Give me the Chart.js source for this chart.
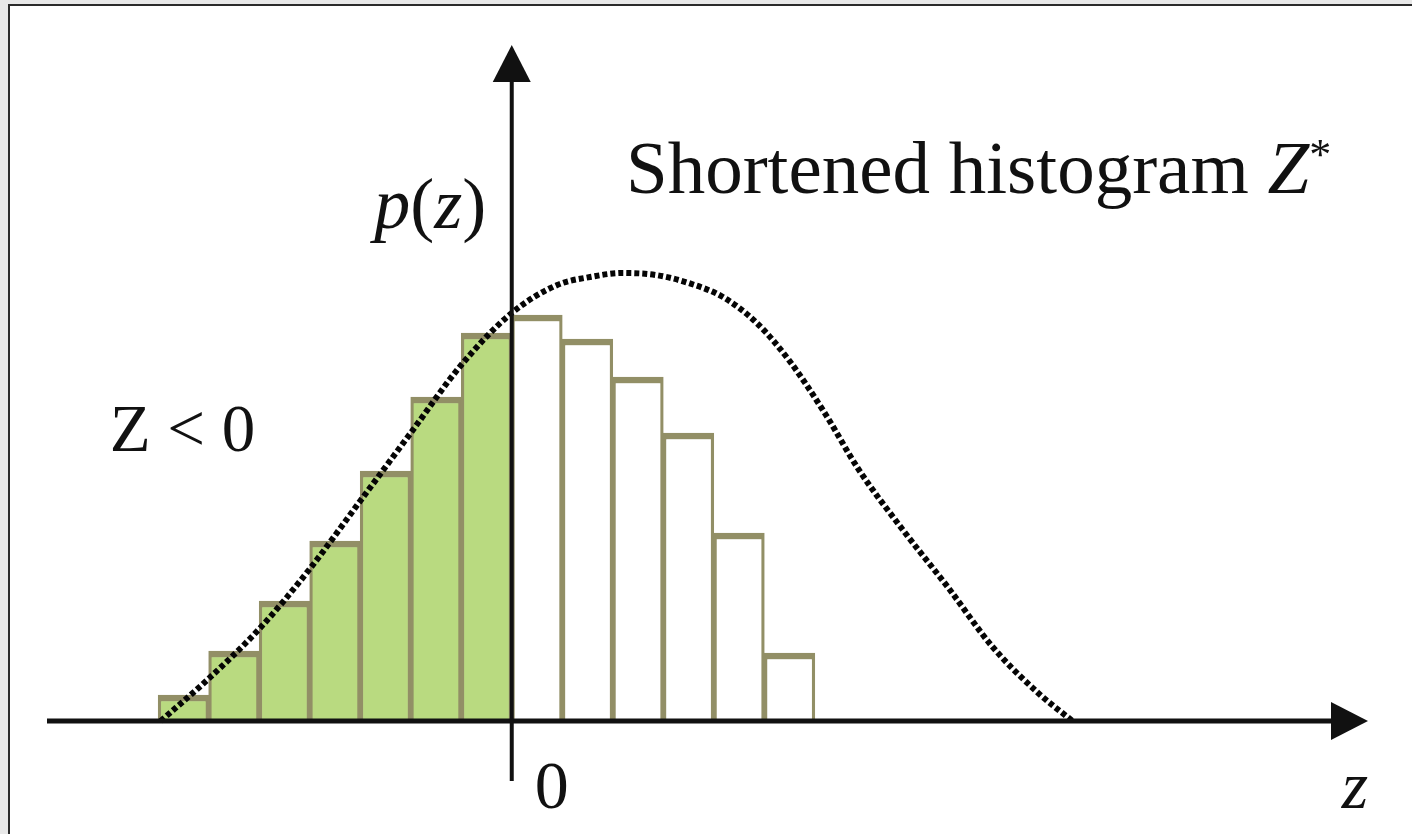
<!DOCTYPE html>
<html>
<head>
<meta charset="utf-8">
<title>Shortened histogram</title>
<script src="https://cdn.jsdelivr.net/npm/chart.js@4.4.1/dist/chart.umd.min.js"></script>
<style>
  html, body { margin: 0; padding: 0; background: #e8e8e8; }
  canvas { display: block; }
</style>
</head>
<body>
<canvas id="histChart" width="1412" height="834"></canvas>
<script>
// --- Histogram bins (unit width), split at z = 0 ---
const negCenters = [-6.5, -5.5, -4.5, -3.5, -2.5, -1.5, -0.5];
const negHeights = [0.065, 0.175, 0.30, 0.45, 0.625, 0.81, 0.97];
const posCenters = [0.5, 1.5, 2.5, 3.5, 4.5, 5.5];
const posHeights = [1.015, 0.955, 0.86, 0.72, 0.47, 0.17];

// --- Dotted density curve p(z) ---
const curveZ = [-6.95, -6.05, -5.0, -4.0, -3.0, -2.0, -1.0, 0, 0.9, 1.55, 2.2, 2.85, 3.5, 4.18, 4.85, 5.5, 6.22, 6.85, 7.74, 8.63, 9.52, 10.42, 11.1];
const curveP = [0, 0.10, 0.23, 0.38, 0.55, 0.72, 0.89, 1.02, 1.09, 1.11, 1.12, 1.115, 1.095, 1.06, 0.995, 0.90, 0.765, 0.632, 0.478, 0.335, 0.185, 0.07, 0];

// --- Axis ranges ---
const Z_MIN = -9.2, Z_MAX = 16.95;
const P_MIN = -0.15, P_MAX = 1.69;

const GREEN = '#b9da80';
const OLIVE = '#928f66';
const INK = '#111111';
const SERIF = '"Liberation Serif", "Times New Roman", serif';

const BIN_BORDER = { top: 6.5, bottom: 0, left: 3.25, right: 3.25 };

function toPoints(xs, ys) {
    return xs.map((x, i) => ({ x: x, y: ys[i] }));
}

// grey page with the white panel and its frame
const framePlugin = {
    id: 'frame',
    beforeDraw(chart) {
        const ctx = chart.ctx;
        const w = chart.width, h = chart.height;
        ctx.save();
        ctx.fillStyle = '#e8e8e8';
        ctx.fillRect(0, 0, w, h);
        ctx.fillStyle = '#ffffff';
        ctx.fillRect(9, 4, w - 9, h - 4);
        ctx.strokeStyle = '#2b2b2b';
        ctx.lineWidth = 2;
        ctx.beginPath();
        ctx.moveTo(9, h);
        ctx.lineTo(9, 5);
        ctx.lineTo(w, 5);
        ctx.stroke();
        ctx.restore();
    }
};

// z and p(z) axes with arrowheads, crossing at the origin
const axesPlugin = {
    id: 'arrowAxes',
    afterDatasetsDraw(chart) {
        const ctx = chart.ctx;
        const area = chart.chartArea;
        const x0 = chart.scales.x.getPixelForValue(0);
        const y0 = chart.scales.y.getPixelForValue(0);
        const len = 37, half = 19;
        ctx.save();
        ctx.strokeStyle = INK;
        ctx.fillStyle = INK;

        ctx.lineWidth = 5;
        ctx.beginPath();
        ctx.moveTo(area.left, y0);
        ctx.lineTo(area.right - len + 2, y0);
        ctx.stroke();

        ctx.lineWidth = 4;
        ctx.beginPath();
        ctx.moveTo(x0, area.bottom);
        ctx.lineTo(x0, area.top + len - 2);
        ctx.stroke();

        ctx.beginPath();
        ctx.moveTo(area.right, y0);
        ctx.lineTo(area.right - len, y0 - half);
        ctx.lineTo(area.right - len, y0 + half);
        ctx.closePath();
        ctx.fill();

        ctx.beginPath();
        ctx.moveTo(x0, area.top);
        ctx.lineTo(x0 - half, area.top + len);
        ctx.lineTo(x0 + half, area.top + len);
        ctx.closePath();
        ctx.fill();
        ctx.restore();
    }
};

// draws a run of [text, font, dy] pieces left to right
function drawRun(ctx, x, y, pieces) {
    pieces.forEach(([text, font, dy]) => {
        ctx.font = font;
        ctx.fillText(text, x, y + (dy || 0));
        x += ctx.measureText(text).width;
    });
}

const labelsPlugin = {
    id: 'labels',
    afterDraw(chart) {
        const ctx = chart.ctx;
        const xs = chart.scales.x, ys = chart.scales.y;
        ctx.save();
        ctx.fillStyle = INK;
        ctx.textBaseline = 'alphabetic';
        ctx.textAlign = 'left';

        drawRun(ctx, xs.getPixelForValue(2.26), ys.getPixelForValue(1.32), [
            ['Shortened histogram ', '75px ' + SERIF],
            ['Z', 'italic 75px ' + SERIF],
            ['*', '44px ' + SERIF, -24]
        ]);

        drawRun(ctx, xs.getPixelForValue(-2.72), ys.getPixelForValue(1.2325), [
            ['p', 'italic 72px ' + SERIF],
            ['(', '72px ' + SERIF],
            ['z', 'italic 72px ' + SERIF],
            [')', '72px ' + SERIF]
        ]);

        drawRun(ctx, xs.getPixelForValue(-7.96), ys.getPixelForValue(0.675), [
            ['Z < 0', '67px ' + SERIF]
        ]);

        drawRun(ctx, xs.getPixelForValue(0.455), ys.getPixelForValue(-0.2175), [
            ['0', '68px ' + SERIF]
        ]);

        drawRun(ctx, xs.getPixelForValue(16.43), ys.getPixelForValue(-0.2175), [
            ['z', 'italic 68px ' + SERIF]
        ]);
        ctx.restore();
    }
};

const chart = new Chart(document.getElementById('histChart').getContext('2d'), {
    type: 'bar',
    data: {
        datasets: [
            {
                type: 'line',
                label: 'p(z)',
                data: toPoints(curveZ, curveP),
                borderColor: '#050505',
                borderWidth: 6,
                borderDash: [5, 3],
                borderCapStyle: 'butt',
                cubicInterpolationMode: 'monotone',
                pointRadius: 0,
                fill: false,
                clip: false,
                order: 0
            },
            {
                label: 'Z < 0',
                data: toPoints(negCenters, negHeights),
                backgroundColor: GREEN,
                borderColor: OLIVE,
                borderWidth: BIN_BORDER,
                borderSkipped: 'bottom',
                grouped: false,
                barPercentage: 1,
                categoryPercentage: 1,
                order: 1
            },
            {
                label: 'Z*',
                data: toPoints(posCenters, posHeights),
                backgroundColor: '#ffffff',
                borderColor: OLIVE,
                borderWidth: BIN_BORDER,
                borderSkipped: 'bottom',
                grouped: false,
                barPercentage: 1,
                categoryPercentage: 1,
                order: 1
            }
        ]
    },
    options: {
        responsive: false,
        animation: false,
        devicePixelRatio: 1,
        layout: {
            padding: { left: 47, right: 44, top: 45, bottom: 53 }
        },
        scales: {
            x: {
                type: 'linear',
                min: Z_MIN,
                max: Z_MAX,
                offset: false,
                display: false
            },
            y: {
                type: 'linear',
                min: P_MIN,
                max: P_MAX,
                display: false
            }
        },
        plugins: {
            legend: { display: false },
            tooltip: { enabled: false }
        }
    },
    plugins: [framePlugin, axesPlugin, labelsPlugin]
});
</script>
</body>
</html>
